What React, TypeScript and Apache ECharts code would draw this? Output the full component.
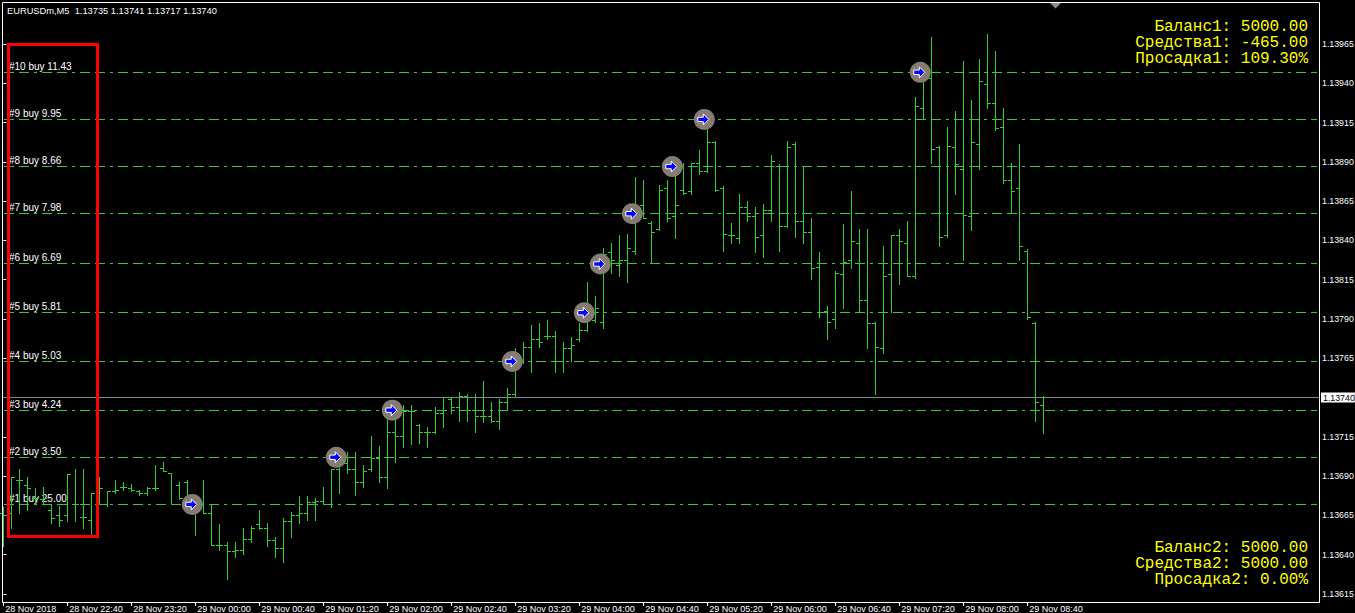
import React, { useEffect, useRef } from 'react';
import * as echarts from 'echarts';

const timeLabels = ['28 Nov 2018', '28 Nov 22:40', '28 Nov 23:20', '29 Nov 00:00', '29 Nov 00:40', '29 Nov 01:20', '29 Nov 02:00', '29 Nov 02:40', '29 Nov 03:20', '29 Nov 04:00', '29 Nov 04:40', '29 Nov 05:20', '29 Nov 06:00', '29 Nov 06:40', '29 Nov 07:20', '29 Nov 08:00', '29 Nov 08:40'];
const timeTickBars = [0, 8, 16, 24, 32, 40, 48, 56, 64, 72, 80, 88, 96, 104, 112, 120, 128];
const priceTicks = [1.13615, 1.1364, 1.13665, 1.1369, 1.13715, 1.1374, 1.13765, 1.1379, 1.13815, 1.1384, 1.13865, 1.1389, 1.13915, 1.1394, 1.13965];

const open = [1.13666, 1.13666, 1.13687, 1.13684, 1.13676, 1.13675, 1.13668, 1.13665, 1.13665, 1.13672, 1.13664, 1.13662, 1.13676, 1.13672, 1.13680, 1.13683, 1.13682, 1.13680, 1.13679, 1.13682, 1.13695, 1.13692, 1.13684, 1.13686, 1.13675, 1.13672, 1.13666, 1.13646, 1.13646, 1.13642, 1.13643, 1.13650, 1.13659, 1.13657, 1.13649, 1.13644, 1.13661, 1.13665, 1.13666, 1.13673, 1.13674, 1.13672, 1.13694, 1.13698, 1.13694, 1.13686, 1.13694, 1.13701, 1.13689, 1.13718, 1.13715, 1.13731, 1.13722, 1.13718, 1.13718, 1.13730, 1.13739, 1.13734, 1.13741, 1.13732, 1.13728, 1.13728, 1.13725, 1.13737, 1.13742, 1.13763, 1.13772, 1.13777, 1.13779, 1.13779, 1.13763, 1.13771, 1.13777, 1.13783, 1.13789, 1.13788, 1.13832, 1.13824, 1.13827, 1.13833, 1.13862, 1.13851, 1.13847, 1.13873, 1.13855, 1.13872, 1.13871, 1.13889, 1.13884, 1.13902, 1.13873, 1.13843, 1.13841, 1.13861, 1.13855, 1.13843, 1.13859, 1.13887, 1.13849, 1.13901, 1.13852, 1.13845, 1.13823, 1.13795, 1.13790, 1.13818, 1.13827, 1.13838, 1.13802, 1.13787, 1.13771, 1.13818, 1.13843, 1.13838, 1.13817, 1.13924, 1.13943, 1.13899, 1.13843, 1.13899, 1.13885, 1.13855, 1.13901, 1.13939, 1.13927, 1.13912, 1.13878, 1.13873, 1.13833, 1.13787, 1.13735];
const high = [1.13670, 1.13689, 1.13694, 1.13689, 1.13682, 1.13683, 1.13672, 1.13671, 1.13691, 1.13694, 1.13694, 1.13679, 1.13689, 1.13680, 1.13687, 1.13686, 1.13685, 1.13681, 1.13683, 1.13697, 1.13699, 1.13692, 1.13686, 1.13687, 1.13678, 1.13687, 1.13672, 1.13659, 1.13648, 1.13648, 1.13657, 1.13658, 1.13668, 1.13660, 1.13651, 1.13663, 1.13667, 1.13677, 1.13677, 1.13676, 1.13683, 1.13694, 1.13702, 1.13705, 1.13705, 1.13697, 1.13715, 1.13709, 1.13726, 1.13736, 1.13735, 1.13735, 1.13723, 1.13721, 1.13734, 1.13740, 1.13740, 1.13743, 1.13742, 1.13742, 1.13750, 1.13737, 1.13739, 1.13746, 1.13771, 1.13775, 1.13786, 1.13787, 1.13789, 1.13782, 1.13775, 1.13778, 1.13787, 1.13813, 1.13804, 1.13835, 1.13838, 1.13843, 1.13844, 1.13880, 1.13878, 1.13852, 1.13875, 1.13878, 1.13887, 1.13889, 1.13889, 1.13897, 1.13915, 1.13903, 1.13874, 1.13851, 1.13869, 1.13865, 1.13861, 1.13863, 1.13894, 1.13888, 1.13903, 1.13902, 1.13887, 1.13854, 1.13832, 1.13798, 1.13820, 1.13850, 1.13871, 1.13847, 1.13847, 1.13788, 1.13836, 1.13843, 1.13847, 1.13852, 1.13931, 1.13948, 1.13969, 1.13900, 1.13912, 1.13922, 1.13954, 1.13929, 1.13955, 1.13971, 1.13960, 1.13924, 1.13889, 1.13901, 1.13834, 1.13788, 1.13741];
const low = [1.13645, 1.13657, 1.13666, 1.13668, 1.13672, 1.13672, 1.13660, 1.13658, 1.13661, 1.13661, 1.13657, 1.13652, 1.13672, 1.13671, 1.13679, 1.13681, 1.13680, 1.13678, 1.13678, 1.13681, 1.13693, 1.13672, 1.13675, 1.13670, 1.13652, 1.13666, 1.13646, 1.13643, 1.13624, 1.13638, 1.13640, 1.13648, 1.13656, 1.13645, 1.13638, 1.13635, 1.13651, 1.13660, 1.13662, 1.13662, 1.13672, 1.13670, 1.13679, 1.13692, 1.13678, 1.13683, 1.13693, 1.13686, 1.13682, 1.13699, 1.13708, 1.13710, 1.13711, 1.13708, 1.13717, 1.13721, 1.13730, 1.13725, 1.13725, 1.13718, 1.13724, 1.13724, 1.13720, 1.13732, 1.13741, 1.13762, 1.13756, 1.13772, 1.13777, 1.13756, 1.13756, 1.13763, 1.13776, 1.13782, 1.13788, 1.13784, 1.13819, 1.13817, 1.13813, 1.13831, 1.13854, 1.13825, 1.13846, 1.13852, 1.13841, 1.13869, 1.13869, 1.13882, 1.13883, 1.13871, 1.13833, 1.13838, 1.13838, 1.13852, 1.13832, 1.13829, 1.13852, 1.13833, 1.13848, 1.13842, 1.13838, 1.13815, 1.13791, 1.13777, 1.13784, 1.13797, 1.13822, 1.13794, 1.13771, 1.13742, 1.13768, 1.13794, 1.13812, 1.13817, 1.13816, 1.13917, 1.13889, 1.13836, 1.13842, 1.13869, 1.13827, 1.13846, 1.13885, 1.13924, 1.13910, 1.13876, 1.13857, 1.13827, 1.13790, 1.13725, 1.13717];
const close = [1.13665, 1.13689, 1.13687, 1.13682, 1.13676, 1.13676, 1.13663, 1.13662, 1.13691, 1.13672, 1.13664, 1.13679, 1.13682, 1.13680, 1.13681, 1.13683, 1.13681, 1.13679, 1.13682, 1.13682, 1.13693, 1.13672, 1.13676, 1.13675, 1.13672, 1.13666, 1.13646, 1.13646, 1.13642, 1.13643, 1.13650, 1.13657, 1.13657, 1.13649, 1.13644, 1.13661, 1.13665, 1.13666, 1.13673, 1.13674, 1.13672, 1.13694, 1.13698, 1.13694, 1.13686, 1.13693, 1.13701, 1.13689, 1.13718, 1.13715, 1.13731, 1.13731, 1.13718, 1.13718, 1.13730, 1.13740, 1.13734, 1.13741, 1.13732, 1.13728, 1.13728, 1.13725, 1.13737, 1.13742, 1.13763, 1.13772, 1.13777, 1.13775, 1.13779, 1.13763, 1.13771, 1.13773, 1.13783, 1.13796, 1.13797, 1.13831, 1.13827, 1.13827, 1.13835, 1.13857, 1.13854, 1.13845, 1.13872, 1.13854, 1.13862, 1.13870, 1.13889, 1.13884, 1.13902, 1.13872, 1.13844, 1.13843, 1.13861, 1.13855, 1.13842, 1.13859, 1.13890, 1.13849, 1.13899, 1.13852, 1.13845, 1.13822, 1.13794, 1.13788, 1.13819, 1.13826, 1.13839, 1.13802, 1.13787, 1.13772, 1.13817, 1.13843, 1.13839, 1.13817, 1.13925, 1.13943, 1.13898, 1.13842, 1.13900, 1.13888, 1.13856, 1.13902, 1.13941, 1.13927, 1.13911, 1.13878, 1.13871, 1.13836, 1.13791, 1.13737, 1.13740];

const orderBar = [23, 41, 48, 63, 72, 74, 78, 83, 87, 114];
const orderPrice = [1.13672, 1.13702, 1.13732, 1.13763, 1.13794, 1.13825, 1.13857, 1.13887, 1.13917, 1.13947];
const orderLots = ['25.00', '3.50', '4.24', '5.03', '5.81', '6.69', '7.98', '8.66', '9.95', '11.43'];

const symbolName = 'EURUSDm,M5';
const account1 = ['Баланс1: 5000.00', 'Средства1: -465.00', 'Просадка1: 109.30%'];
const account2 = ['Баланс2: 5000.00', 'Средства2: 5000.00', 'Просадка2: 0.00%'];

const GREEN = '#32cd32';
const Y_MIN = 1.13609273;
const Y_MAX = 1.13991727;
const X_MIN = -0.1625;
const X_MAX = 164.4625;
const AXIS_FONT = 'Liberation Sans';

export default function App() {
  const ref = useRef<HTMLDivElement>(null);
  useEffect(() => {
    document.body.style.margin = '0';
    const chart = echarts.init(ref.current as HTMLDivElement, null, { renderer: 'svg' });
    const bars = open.map((o, i) => [i, o, high[i], low[i], close[i]]);
    const last = bars.length - 1;
    const headerText = `${symbolName}  ${open[last].toFixed(5)} ${high[last].toFixed(5)} ${low[last].toFixed(5)} ${close[last].toFixed(5)}`;

    const yellowText = (lines: string[], yStart: number) =>
      lines.map((t, k) => ({
        type: 'text',
        silent: true,
        z: 50,
        style: {
          text: t,
          x: 1308,
          y: yStart + k * 16,
          fill: '#ffff00',
          font: '16px "Liberation Mono"',
          textAlign: 'right',
          textVerticalAlign: 'middle',
        },
      }));

    const option: any = {
      animation: false,
      backgroundColor: '#000',
      grid: { left: 2, right: 36, top: 2, bottom: 10, containLabel: false, outerBoundsMode: 'none' },
      xAxis: {
        type: 'value',
        min: X_MIN,
        max: X_MAX,
        splitLine: { show: false },
        axisLine: { show: false },
        axisTick: { show: true, length: 3, lineStyle: { color: '#fff' }, customValues: timeTickBars },
        axisLabel: {
          customValues: timeTickBars,
          formatter: (v: number) => timeLabels[Math.round(v / 8)] || '',
          color: '#fff',
          fontSize: 9,
          lineHeight: 9,
          fontFamily: AXIS_FONT,
          align: 'left',
          margin: 1,
          padding: [0, 0, 0, 2],
        },
      },
      yAxis: {
        type: 'value',
        position: 'right',
        min: Y_MIN,
        max: Y_MAX,
        scale: true,
        splitLine: { show: false },
        axisLine: { show: false },
        axisTick: { show: true, length: 3, lineStyle: { color: '#fff' }, customValues: priceTicks },
        axisLabel: {
          customValues: priceTicks,
          formatter: (v: number) => v.toFixed(5),
          color: '#fff',
          fontSize: 8.8,
          fontFamily: AXIS_FONT,
          margin: 3,
        },
      },
      series: [
        {
          type: 'custom',
          name: 'levels',
          data: orderPrice.map((p, k) => [orderBar[k], p, k]),
          encode: { x: 0, y: 1 },
          z: 1,
          silent: true,
          renderItem: (params: any, api: any) => {
            const cs = params.coordSys;
            const k = api.value(2);
            const y = Math.floor(api.coord([api.value(0), api.value(1)])[1]) + 0.5;
            return {
              type: 'group',
              children: [
                {
                  type: 'line',
                  shape: { x1: cs.x + 2, y1: y, x2: cs.x + cs.width - 2, y2: y },
                  style: { stroke: GREEN, lineWidth: 1, lineDash: [10, 5, 10, 5, 3, 5] },
                },
                {
                  type: 'text',
                  style: {
                    text: `#${k + 1} buy ${orderLots[k]}`,
                    x: cs.x + 7,
                    y: y - 6.5,
                    fill: '#ffffff',
                    font: `10px "${AXIS_FONT}"`,
                    textVerticalAlign: 'middle',
                  },
                },
              ],
            };
          },
        },
        {
          type: 'custom',
          name: 'price',
          data: [[last, close[last]]],
          encode: { x: 0, y: 1 },
          z: 1,
          silent: true,
          renderItem: (params: any, api: any) => {
            const cs = params.coordSys;
            const v = api.value(1);
            const y = Math.floor(api.coord([api.value(0), v])[1]) + 0.5;
            return {
              type: 'group',
              children: [
                {
                  type: 'line',
                  shape: { x1: cs.x, y1: y, x2: cs.x + cs.width, y2: y },
                  style: { stroke: '#778899', lineWidth: 1 },
                },
                {
                  type: 'text',
                  z2: 10,
                  style: {
                    text: v.toFixed(5),
                    x: cs.x + cs.width + 2,
                    y: y,
                    fill: '#000',
                    backgroundColor: '#fff',
                    padding: [0, 0, 0, 2],
                    lineHeight: 10,
                    font: `8.8px "${AXIS_FONT}"`,
                    textVerticalAlign: 'middle',
                  },
                },
              ],
            };
          },
        },
        {
          type: 'custom',
          name: 'bars',
          data: bars,
          encode: { x: 0, y: [1, 2, 3, 4] },
          z: 2,
          silent: true,
          renderItem: (params: any, api: any) => {
            const i = api.value(0);
            const po = api.coord([i, api.value(1)]);
            const ph = api.coord([i, api.value(2)]);
            const pl = api.coord([i, api.value(3)]);
            const pc = api.coord([i, api.value(4)]);
            const x = Math.floor(po[0]) + 0.5;
            const yo = Math.floor(po[1]) + 0.5;
            const yc = Math.floor(pc[1]) + 0.5;
            const yh = Math.floor(ph[1]);
            const yl = Math.floor(pl[1]) + 1;
            const style = { stroke: GREEN, lineWidth: 1 };
            return {
              type: 'group',
              children: [
                { type: 'line', shape: { x1: x, y1: yh, x2: x, y2: yl }, style },
                { type: 'line', shape: { x1: x - 3.5, y1: yo, x2: x, y2: yo }, style },
                { type: 'line', shape: { x1: x, y1: yc, x2: x + 3.5, y2: yc }, style },
              ],
            };
          },
        },
        {
          type: 'scatter',
          data: orderBar.map((b, k) => [b, orderPrice[k]]),
          symbol: 'circle',
          symbolSize: 21,
          symbolOffset: [5, 0],
          itemStyle: { color: '#857b70', opacity: 1 },
          silent: true,
          z: 5,
        },
        {
          type: 'scatter',
          data: orderBar.map((b, k) => [b, orderPrice[k]]),
          symbol: 'path://M0,3L5,3L5,0L10,5L5,10L5,7L0,7Z',
          symbolSize: [11, 11],
          symbolOffset: [4, 0],
          itemStyle: { color: '#0000ff', borderColor: '#ffffff', borderWidth: 1, opacity: 1 },
          silent: true,
          z: 6,
        },
      ],
      graphic: [
        {
          type: 'rect',
          silent: true,
          z: 40,
          shape: { x: 2.5, y: 2.5, width: 1317, height: 600 },
          style: { fill: 'none', stroke: '#ffffff', lineWidth: 1 },
        },
        {
          type: 'rect',
          silent: true,
          z: 45,
          shape: { x: 8.5, y: 44.5, width: 89, height: 492 },
          style: { fill: 'none', stroke: '#ff0000', lineWidth: 3 },
        },
        {
          type: 'polygon',
          silent: true,
          z: 45,
          shape: { points: [[1050, 3], [1061, 3], [1055.5, 8.5]] },
          style: { fill: '#8c8c8c' },
        },
        {
          type: 'text',
          silent: true,
          z: 50,
          style: {
            text: headerText,
            x: 7,
            y: 11,
            fill: '#ffffff',
            font: '9.3px "Liberation Sans"',
            textVerticalAlign: 'middle',
          },
        },
        ...yellowText(account1, 27),
        ...yellowText(account2, 548),
      ],
    };
    chart.setOption(option);
    return () => chart.dispose();
  }, []);
  return (
    <div
      ref={ref}
      style={{ position: 'fixed', left: 0, top: 0, width: 1355, height: 613, background: '#000' }}
    />
  );
}
